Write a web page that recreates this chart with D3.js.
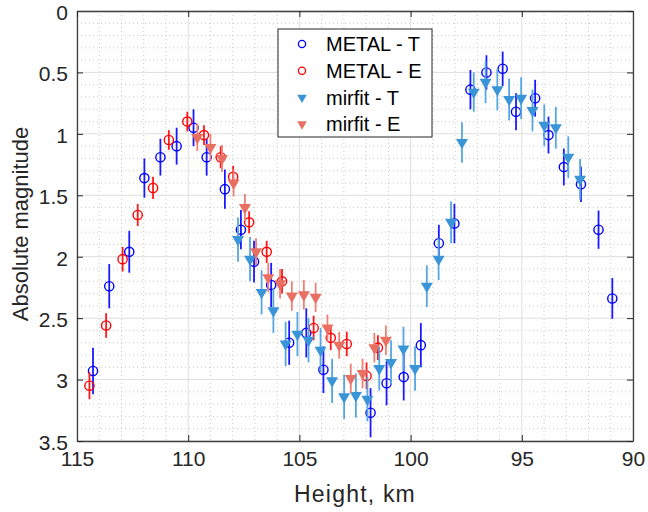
<!DOCTYPE html>
<html>
<head>
<meta charset="utf-8">
<style>
    body { margin: 0; background: #fff; }
    svg { display: block; font-family: "Liberation Sans", Arial, sans-serif; }
    .tick text { fill: #262626; font-size: 21px; }
    .axis-label { fill: #262626; font-size: 22px; }
    .legend text { fill: #000; font-size: 20px; }
</style>
</head>
<body>
<svg id="chart"></svg>
<script src="https://d3js.org/d3.v7.min.js"></script>
<script>
    // METAL - T
    var metalTHeight = [114.28, 113.55, 112.65, 111.97, 111.25, 110.52, 109.76, 109.17, 108.35, 107.63, 107.04, 106.27,
        105.46, 104.69, 103.92, 101.80, 101.08, 100.31, 99.54, 98.73, 98.03, 97.31, 96.59, 95.86, 95.26, 94.40,
        93.80, 93.11, 92.34, 91.55, 90.93];
    var metalTMag = [2.93, 2.24, 1.96, 1.36, 1.19, 1.10, 0.95, 1.19, 1.45, 1.78, 2.04, 2.23,
        2.70, 2.62, 2.92, 3.27, 3.03, 2.98, 2.72, 1.89, 1.73, 0.64, 0.50, 0.47, 0.82, 0.71,
        1.01, 1.27, 1.41, 1.78, 2.34];
    var metalTErr = [0.19, 0.18, 0.17, 0.16, 0.15, 0.15, 0.15, 0.15, 0.16, 0.16, 0.17, 0.18,
        0.18, 0.20, 0.19, 0.20, 0.18, 0.19, 0.18, 0.15, 0.16, 0.16, 0.14, 0.14, 0.15, 0.15,
        0.15, 0.15, 0.145, 0.156, 0.166];

    // METAL - E
    var metalEHeight = [114.44, 113.69, 112.95, 112.27, 111.58, 110.87, 110.04, 109.29, 108.54, 107.98, 107.26,
        106.47, 105.78, 104.36, 103.59, 102.87, 101.98, 101.47];
    var metalEMag = [3.05, 2.56, 2.02, 1.66, 1.44, 1.05, 0.90, 1.01, 1.19, 1.35, 1.72,
        1.96, 2.20, 2.58, 2.66, 2.71, 2.97, 2.74];
    var metalEErr = [0.11, 0.10, 0.10, 0.09, 0.09, 0.08, 0.08, 0.08, 0.09, 0.09, 0.09,
        0.09, 0.10, 0.10, 0.10, 0.10, 0.11, 0.10];

    // mirfit - T
    var mirTHeight = [107.76, 107.22, 106.70, 106.17, 105.62, 105.09, 104.59, 104.05, 103.53, 102.99, 102.46,
        101.94, 101.41, 100.88, 100.32, 99.80, 99.27, 98.74, 98.18, 97.69, 97.16, 96.63, 96.10, 95.57, 95.03,
        94.52, 93.99, 93.47, 92.91, 92.38];
    var mirTMag = [1.86, 2.02, 2.29, 2.44, 2.71, 2.63, 2.68, 2.76, 3.01, 3.14, 3.13,
        3.16, 2.91, 2.86, 2.75, 2.91, 2.24, 2.02, 1.72, 1.07, 0.66, 0.58, 0.64, 0.72, 0.71,
        0.81, 0.93, 0.95, 1.19, 1.37];
    var mirTErr = [0.18, 0.18, 0.18, 0.18, 0.18, 0.18, 0.18, 0.18, 0.18, 0.18, 0.18,
        0.18, 0.18, 0.18, 0.18, 0.18, 0.17, 0.17, 0.17, 0.165, 0.16, 0.17, 0.17, 0.17, 0.17,
        0.17, 0.17, 0.17, 0.17, 0.165];

    // mirfit - E
    var mirEHeight = [109.59, 109.00, 108.48, 107.96, 107.45, 106.95, 106.40, 105.87, 105.34, 104.80, 104.27,
        103.74, 103.21, 102.69, 102.16, 101.63, 101.11];
    var mirEMag = [1.03, 1.11, 1.20, 1.40, 1.60, 1.96, 2.17, 2.22, 2.32, 2.31, 2.33,
        2.58, 2.72, 2.99, 2.95, 2.74, 2.68];
    var mirEErr = [0.11, 0.11, 0.11, 0.11, 0.11, 0.11, 0.12, 0.12, 0.12, 0.12, 0.12,
        0.11, 0.11, 0.12, 0.12, 0.12, 0.12];

    var xTicks = [115, 110, 105, 100, 95, 90];
    var yTicks = [0, 0.5, 1, 1.5, 2, 2.5, 3, 3.5];
    var legendLabels = ['METAL - T', 'METAL - E', 'mirfit - T', 'mirfit - E'];

    var width = 648, height = 512;
    var margin = { top: 11, right: 15, bottom: 71, left: 77 };
    var innerW = width - margin.left - margin.right;
    var innerH = height - margin.top - margin.bottom;

    var svg = d3.select('#chart').attr('width', width).attr('height', height);
    var g = svg.append('g').attr('transform', 'translate(' + margin.left + ',' + margin.top + ')');

    // reversed axes, like the original
    var x = d3.scaleLinear().domain([115, 90]).range([0, innerW]);
    var y = d3.scaleLinear().domain([0, 3.5]).range([0, innerH]);

    // minor grid (dotted)
    var minorX = d3.range(114, 90, -1).filter(function (v) { return v % 5 !== 0; });
    var minorY = d3.range(1, 35).map(function (v) { return v / 10; }).filter(function (v, i) { return (i + 1) % 5 !== 0; });

    g.append('g').selectAll('line').data(minorX).join('line')
        .attr('x1', function (d) { return x(d); }).attr('x2', function (d) { return x(d); })
        .attr('y1', 0).attr('y2', innerH)
        .attr('stroke', '#cacaca').attr('stroke-width', 1).attr('stroke-dasharray', '1,3');
    g.append('g').selectAll('line').data(minorY).join('line')
        .attr('y1', function (d) { return y(d); }).attr('y2', function (d) { return y(d); })
        .attr('x1', 0).attr('x2', innerW)
        .attr('stroke', '#cacaca').attr('stroke-width', 1).attr('stroke-dasharray', '1,3');

    // major grid
    g.append('g').selectAll('line').data(xTicks).join('line')
        .attr('x1', function (d) { return x(d); }).attr('x2', function (d) { return x(d); })
        .attr('y1', 0).attr('y2', innerH)
        .attr('stroke', '#dedede').attr('stroke-width', 1);
    g.append('g').selectAll('line').data(yTicks).join('line')
        .attr('y1', function (d) { return y(d); }).attr('y2', function (d) { return y(d); })
        .attr('x1', 0).attr('x2', innerW)
        .attr('stroke', '#dedede').attr('stroke-width', 1);

    // series helper
    function series(hs, ms, es) {
        return hs.map(function (h, i) { return { h: h, m: ms[i], e: es[i] }; });
    }

    var tri = d3.symbol().type(d3.symbolTriangle).size(62);

    function drawSeries(data, color, barColor, kind) {
        var s = g.append('g');
        s.selectAll('line').data(data).join('line')
            .attr('x1', function (d) { return x(d.h); }).attr('x2', function (d) { return x(d.h); })
            .attr('y1', function (d) { return y(d.m - d.e); }).attr('y2', function (d) { return y(d.m + d.e); })
            .attr('stroke', barColor).attr('stroke-width', 1.8);
        if (kind === 'circle') {
            s.selectAll('circle').data(data).join('circle')
                .attr('cx', function (d) { return x(d.h); })
                .attr('cy', function (d) { return y(d.m); })
                .attr('r', 4.6)
                .attr('fill', 'none').attr('stroke', color).attr('stroke-width', 1.4);
        } else {
            s.selectAll('path').data(data).join('path')
                .attr('d', tri)
                .attr('transform', function (d) { return 'translate(' + x(d.h) + ',' + y(d.m) + ') rotate(180)'; })
                .attr('fill', color);
        }
    }

    drawSeries(series(metalTHeight, metalTMag, metalTErr), '#0000ff', '#1a1aff', 'circle');
    drawSeries(series(metalEHeight, metalEMag, metalEErr), '#ff0000', '#ff1a1a', 'circle');
    drawSeries(series(mirTHeight, mirTMag, mirTErr), '#3a95d8', '#55a7e1', 'tri');
    drawSeries(series(mirEHeight, mirEMag, mirEErr), '#ea6f63', '#ee8177', 'tri');

    // axes with inward ticks on all four sides
    var xAxis = g.append('g').attr('class', 'axis').attr('transform', 'translate(0,' + innerH + ')')
        .call(d3.axisBottom(x).tickValues(xTicks).tickSizeInner(-6).tickSizeOuter(0).tickPadding(14));
    var yAxis = g.append('g').attr('class', 'axis')
        .call(d3.axisLeft(y).tickValues(yTicks).tickSizeInner(-6).tickSizeOuter(0).tickPadding(9)
            .tickFormat(d3.format('~g')));
    g.append('g').call(d3.axisTop(x).tickValues(xTicks).tickSizeInner(-6).tickSizeOuter(0).tickFormat(''));
    g.append('g').attr('transform', 'translate(' + innerW + ',0)')
        .call(d3.axisRight(y).tickValues(yTicks).tickSizeInner(-6).tickSizeOuter(0).tickFormat(''));

    g.selectAll('.domain').attr('stroke', '#404040').attr('stroke-width', 1.3);
    g.selectAll('.tick line').attr('stroke', '#262626');
    g.selectAll('.tick text').attr('font-family', null).attr('font-size', null);
    xAxis.selectAll('.tick text').attr('dy', '0.5em');
    yAxis.selectAll('.tick text').attr('dy', '0.4em');

    // axis labels
    svg.append('text').attr('class', 'axis-label')
        .attr('x', margin.left + innerW / 2).attr('y', 502)
        .attr('text-anchor', 'middle').attr('letter-spacing', '1.2px')
        .style('font-size', '23px').text('Height, km');
    svg.append('text').attr('class', 'axis-label')
        .attr('transform', 'translate(28,' + (margin.top + innerH / 2 - 2) + ') rotate(-90)')
        .attr('text-anchor', 'middle').text('Absolute magnitude');

    // legend
    var lg = svg.append('g').attr('class', 'legend').attr('transform', 'translate(278,29)');
    lg.append('rect').attr('width', 154).attr('height', 108)
        .attr('fill', '#fff').attr('stroke', '#262626').attr('stroke-width', 1);
    var legendColors = ['#0000ff', '#ff0000', '#3a95d8', '#ea6f63'];
    var smallTri = d3.symbol().type(d3.symbolTriangle).size(40);
    legendLabels.forEach(function (lab, i) {
        var cy = 15 + i * 26.7;
        if (i < 2) {
            lg.append('circle').attr('cx', 24).attr('cy', cy).attr('r', 3.6)
                .attr('fill', 'none').attr('stroke', legendColors[i]).attr('stroke-width', 1.3);
        } else {
            lg.append('path').attr('d', smallTri)
                .attr('transform', 'translate(24,' + cy + ') rotate(180)')
                .attr('fill', legendColors[i]);
        }
        lg.append('text').attr('x', 48).attr('y', cy).attr('dy', '0.36em').text(lab);
    });
</script>
</body>
</html>
